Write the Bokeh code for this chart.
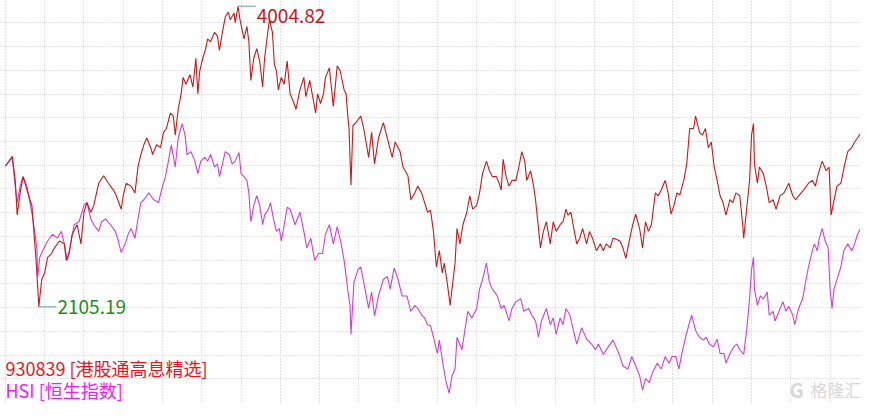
from bokeh.plotting import figure
from bokeh.models import Range1d, FixedTicker, Label
from bokeh.embed import file_html
from bokeh.resources import INLINE

# trading-day index (time position) and index levels
red_day = [5, 12, 15, 17, 20, 23, 27, 30, 32, 33, 36, 38, 39, 42, 45, 48, 52, 55, 60, 65, 67, 70, 73, 78, 82, 85, 88, 92, 95,
           100, 105, 110, 115, 118, 123, 125, 128, 133, 137, 140, 143, 146, 149, 153, 155, 159, 163, 166, 169, 173, 176, 178,
           181, 184, 186, 189, 193, 196, 199, 201, 203, 206, 209, 211, 214, 218, 221, 223, 226, 229, 232, 234, 238, 239,
           242, 244, 248, 251, 253, 255, 258, 261, 264, 267, 269, 273, 274, 277, 279, 281, 283, 286, 289, 292, 295, 299,
           301, 305, 309, 311, 315, 318, 321, 323, 326, 329, 331, 335, 339, 343, 346, 350, 352, 354, 355, 357, 359, 362,
           367, 370, 375, 378, 381, 385, 390, 394, 399, 402, 407, 410, 415, 418, 422, 425, 429, 432, 435, 438, 441, 444,
           447, 450, 452, 455, 458, 461, 463, 465, 468, 471, 475, 478, 481, 485, 488, 491, 495, 498, 501, 505, 508, 510,
           512, 515, 518, 521, 525, 528, 531, 534, 536, 540, 543, 545, 547, 550, 553, 556, 560, 563, 566, 570, 573, 576,
           578, 581, 584, 587, 590, 593, 597, 600, 603, 607, 611, 614, 617, 621, 624, 627, 631, 634, 637, 641, 644, 647,
           651, 654, 657, 660, 663, 667, 670, 673, 677, 680, 683, 686, 689, 692, 696, 699, 702, 706, 708, 712, 715, 718,
           721, 724, 727, 730, 733, 736, 739, 743, 746, 749, 753, 756, 757, 760, 763, 765, 767, 768, 771, 773, 777, 780,
           783, 787, 790, 794, 798, 803, 807, 810, 813, 818, 823, 827, 830, 833, 837, 841, 844, 846, 848, 852, 856, 860,
           863, 867, 870, 873, 876]
red_val = [2995, 3056, 2904, 2685, 2825, 2928, 2843, 2782, 2746, 2661, 2418, 2217, 2105.19, 2278, 2320, 2418, 2442, 2478,
           2521, 2503, 2399, 2442, 2564, 2624, 2503, 2703, 2764, 2703, 2746,
           2886, 2934, 2886, 2843, 2807, 2722, 2807, 2886, 2868, 2825, 2989, 3068, 3129, 3172, 3111, 3068, 3129, 3111, 3208,
           3232, 3330, 3311, 3190,
           3354, 3451, 3555, 3512, 3573, 3494, 3676, 3451, 3597, 3676, 3737, 3798, 3780, 3840, 3816, 3725, 3840, 3938, 3968,
           3919, 3962, 3901,
           4004.82, 3919, 3798, 3877, 3780, 3536, 3676, 3737, 3658, 3494, 3676, 3877, 3919, 3840, 3634, 3597, 3476, 3555,
           3512, 3658, 3451, 3390,
           3354, 3476, 3555, 3433, 3536, 3433, 3330, 3451, 3390, 3451, 3555, 3615, 3372, 3628, 3597, 3476, 3451, 3293, 3232,
           2874, 3251, 3269,
           3311, 3232, 3050, 3208, 3007, 3172, 3269, 3172, 3050, 3147, 3086, 2989, 2934, 2782, 2825, 2868, 2825, 2764, 2703,
           2716, 2582, 2357,
           2460, 2320, 2381, 2260, 2114, 2278, 2381, 2600, 2503, 2624, 2703, 2807, 2722, 2746, 2825, 2947, 3026, 2965, 2928,
           2928, 2886, 2843,
           3038, 2928, 2868, 2904, 2904, 2989, 3086, 3026, 2904, 2965, 2868, 2782, 2661, 2478, 2582, 2643, 2503, 2643, 2582,
           2624, 2643, 2722,
           2685, 2703, 2600, 2503, 2539, 2600, 2503, 2582, 2539, 2460, 2503, 2460, 2503, 2478, 2539, 2533, 2521, 2478, 2412,
           2539, 2624, 2691,
           2600, 2478, 2643, 2582, 2624, 2825, 2807, 2843, 2904, 2825, 2691, 2746, 2825, 2813, 2904, 3007, 3232, 3232, 3311,
           3208, 3190, 3232,
           3111, 3147, 2989, 2904, 2807, 2764, 2685, 2782, 2764, 2825, 2807, 2624, 2539, 2722, 2904, 3190, 3263, 3007, 2886,
           2989, 2947, 2868,
           2764, 2782, 2722, 2807, 2825, 2886, 2807, 2782, 2807, 2843, 2886, 2904, 2868, 2947, 3026, 2965, 2989, 2685, 2746,
           2868, 2886, 3007,
           3086, 3111, 3147, 3172, 3202]

hsi_day = [5, 12, 15, 17, 20, 23, 27, 30, 33, 37, 38, 40, 43, 48, 53, 58, 62, 65, 68, 72, 75, 80, 85, 88, 92, 95, 100, 103,
           107, 112, 117, 120, 123, 127, 130, 133, 137, 140, 143, 146, 151, 156, 161, 164, 168, 171, 174, 178, 181, 185,
           188, 190, 194, 198, 201, 204, 208, 211, 214, 218, 221, 223, 226, 229, 233, 236, 239, 243, 245, 248, 251, 253,
           255, 258, 261, 264, 267, 269, 273, 275, 278, 281, 284, 286, 289, 292, 295, 300, 305, 309, 312, 316, 320, 324,
           328, 331, 335, 339, 343, 347, 350, 354, 356, 357, 360, 364, 367, 370, 375, 378, 381, 385, 390, 394, 397, 401,
           405, 409, 414, 418, 422, 425, 429, 432, 435, 438, 441, 445, 447, 451, 454, 457, 460, 463, 465, 470, 473, 476,
           480, 485, 488, 491, 495, 498, 501, 506, 510, 513, 518, 521, 525, 530, 533, 538, 541, 545, 548, 551, 556, 560,
           563, 566, 570, 573, 576, 580, 584, 587, 592, 597, 602, 606, 609, 614, 619, 624, 627, 631, 634, 639, 643, 647,
           651, 654, 657, 661, 664, 669, 673, 677, 681, 684, 688, 691, 694, 699, 704, 708, 712, 716, 719, 722, 726, 730,
           733, 737, 739, 743, 747, 750, 753, 757, 760, 763, 765, 767, 768, 771, 774, 777, 781, 783, 787, 789, 793, 797,
           800, 803, 807, 809, 813, 817, 820, 823, 827, 829, 832, 834, 837, 840, 843, 845, 847, 849, 853, 856, 859, 863,
           867, 870, 873, 876]
hsi_val = [2995, 3050, 2868, 2764, 2868, 2928, 2868, 2764, 2661, 2478, 2296, 2418, 2460, 2521, 2564, 2539, 2582, 2503,
           2399, 2521, 2624, 2643, 2746, 2764, 2661, 2624, 2582, 2643,
           2661, 2624, 2582, 2521, 2448, 2503, 2564, 2600, 2539, 2661, 2764, 2782, 2825, 2782, 2764, 2843, 2928, 3026, 3129,
           2989, 3172, 3263,
           3190, 3068, 3086, 3026, 2947, 3026, 3050, 3026, 3068, 2989, 3007, 2928, 3007, 3086, 3068, 3007, 3026, 3080, 2947,
           2928, 2904, 2825,
           2643, 2746, 2807, 2746, 2624, 2685, 2722, 2764, 2661, 2582, 2600, 2521, 2624, 2734, 2722, 2624, 2703, 2582, 2478,
           2539, 2399, 2442,
           2442, 2564, 2624, 2503, 2612, 2503, 2399, 2199, 2114, 1931, 2260, 2339, 2357, 2260, 2095, 2199, 2047, 2174, 2278,
           2296, 2217, 2351,
           2278, 2174, 2174, 2077, 2114, 2095, 2053, 2035, 1992, 1986, 1913, 1810, 1895, 1731, 1627, 1560, 1670, 1712, 1913,
           1834, 1956, 2077,
           2035, 2095, 2217, 2278, 2381, 2260, 2217, 2174, 2095, 2114, 2016, 2095, 2138, 2156, 2077, 2095, 2053, 2016, 1913,
           2016, 2095, 1992,
           2035, 1931, 2035, 1992, 2095, 2053, 1943, 1870, 1974, 1901, 1870, 1834, 1870, 1804, 1852, 1895, 1852, 1791, 1731,
           1712, 1791, 1731,
           1670, 1579, 1652, 1627, 1688, 1749, 1712, 1791, 1749, 1791, 1791, 1712, 1810, 1943, 2053, 1956, 1913, 1895, 1913,
           1870, 1852, 1901,
           1810, 1810, 1749, 1810, 1852, 1870, 1834, 1804, 1956, 2156, 2339, 2418, 2217, 2114, 2174, 2156, 2199, 2053, 2077,
           2016, 2077, 2138,
           2077, 2108, 2053, 1992, 2095, 2156, 2260, 2357, 2460, 2503, 2460, 2539, 2600, 2521, 2478, 2217, 2095, 2217, 2296,
           2357, 2460, 2503,
           2460, 2503, 2564, 2600]

x_ticks = [5, 45, 85, 125, 165, 205, 245, 285, 325, 365, 405, 445, 485, 525, 565, 605, 645, 685, 725, 765, 805, 845]
y_ticks = [1650, 1800, 1950, 2100, 2250, 2400, 2550, 2700, 2850, 3000, 3150, 3300, 3450, 3600, 3750, 3900, 4050]

red_name = "930839 [港股通高息精选]"
hsi_name = "HSI [恒生指数]"

FONT = "Noto Sans CJK SC"

p = figure(width=860, height=404, output_backend="svg", toolbar_location=None,
           x_range=Range1d(0, 876), y_range=Range1d(1488, 4041),
           min_border=0, background_fill_color="white", border_fill_color="white")
p.outline_line_color = None
p.xaxis.visible = False
p.yaxis.visible = False
p.xgrid.ticker = FixedTicker(ticks=x_ticks)
p.ygrid.ticker = FixedTicker(ticks=y_ticks)
for g in (p.xgrid, p.ygrid):
    g.grid_line_color = "#c4c4c4"
    g.grid_line_dash = "1 2"
    g.grid_line_width = 1

p.line(hsi_day, hsi_val, line_color="#d13fd1", line_width=1.1)
p.line(red_day, red_val, line_color="#c41a1a", line_width=1.1)

# max / min annotations
imax = red_val.index(max(red_val))
imin = red_val.index(min(red_val))
xmax, vmax = red_day[imax], red_val[imax]
xmin, vmin = red_day[imin], red_val[imin]
p.segment(x0=[xmax, xmin], y0=[vmax, vmin], x1=[xmax + 18, xmin + 18], y1=[vmax, vmin],
          line_color="#5aa6b8", line_width=1)
p.add_layout(Label(x=xmax + 18, y=vmax, x_offset=1, y_offset=-10, text=f"{vmax:.2f}",
                   text_font=FONT, text_font_size="19px", text_color="#c81414",
                   text_baseline="middle", text_align="left"))
p.add_layout(Label(x=xmin + 18, y=vmin, x_offset=1, y_offset=0, text=f"{vmin:.2f}",
                   text_font=FONT, text_font_size="19px", text_color="#1e8c1e",
                   text_baseline="middle", text_align="left"))

# legend texts
p.add_layout(Label(x=5, y=37, x_units="screen", y_units="screen", text=red_name,
                   text_font=FONT, text_font_size="18px", text_color="#e8141e",
                   text_baseline="middle", text_align="left"))
p.add_layout(Label(x=5, y=15, x_units="screen", y_units="screen", text=hsi_name,
                   text_font=FONT, text_font_size="18px", text_color="#f01cf0",
                   text_baseline="middle", text_align="left"))

# watermark
p.add_layout(Label(x=789, y=15, x_units="screen", y_units="screen", text="G",
                   text_font=FONT, text_font_size="20px", text_font_style="bold", text_color="#d8d8d8",
                   text_baseline="middle", text_align="left"))
p.add_layout(Label(x=810, y=15, x_units="screen", y_units="screen", text="格隆汇",
                   text_font=FONT, text_font_size="17px", text_color="#d8d8d8",
                   text_baseline="middle", text_align="left"))

open("out.html", "w").write(file_html(p, INLINE))
